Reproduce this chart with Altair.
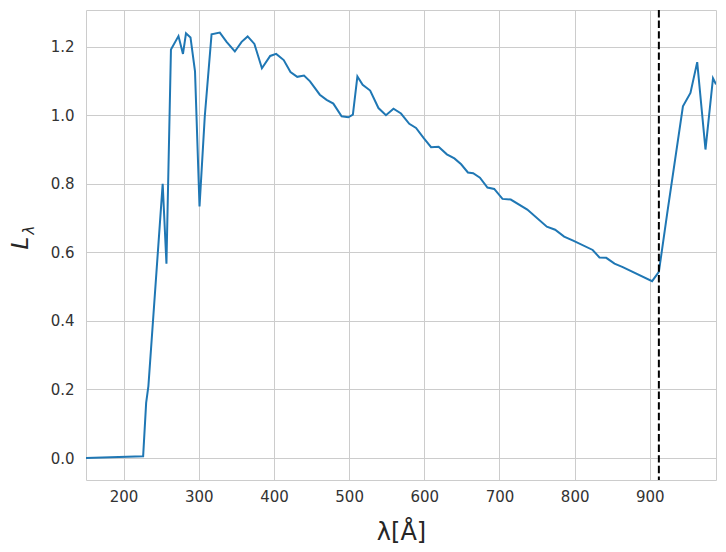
import altair as alt
import pandas as pd

wavelength = [150, 226, 230, 233, 252, 257, 263, 273, 279, 283, 289, 295, 301, 308, 317, 328, 337, 348,
              357, 365, 374, 384, 395, 403, 413, 422, 431, 440, 448, 461, 470, 479, 490, 499, 505, 511,
              518, 528, 539, 549, 559, 569, 580, 589, 599, 609, 619, 630, 640, 649, 658, 665, 674, 684,
              693, 704, 715, 737, 763, 774, 786, 798, 824, 833, 842, 853, 864, 903, 912, 923, 944, 954,
              963, 974, 984, 988]
luminosity = [0.0, 0.005, 0.161, 0.21, 0.80, 0.567, 1.192, 1.231, 1.179, 1.239, 1.227, 1.128, 0.734,
              0.997, 1.236, 1.241, 1.214, 1.186, 1.214, 1.23, 1.208, 1.137, 1.173, 1.179, 1.161, 1.126,
              1.112, 1.116, 1.099, 1.06, 1.045, 1.034, 0.997, 0.994, 1.002, 1.113, 1.089, 1.072, 1.021,
              1.0, 1.019, 1.005, 0.975, 0.963, 0.934, 0.907, 0.908, 0.886, 0.874, 0.857, 0.833, 0.831,
              0.818, 0.789, 0.785, 0.756, 0.754, 0.725, 0.675, 0.666, 0.646, 0.634, 0.607, 0.585, 0.584,
              0.567, 0.557, 0.516, 0.543, 0.712, 1.026, 1.065, 1.155, 0.90, 1.108, 1.09]
lyman_limit = [912]
x_ticks = [200, 300, 400, 500, 600, 700, 800, 900]
y_ticks = [0.0, 0.2, 0.4, 0.6, 0.8, 1.0, 1.2]

df = pd.DataFrame({"wl": wavelength, "L": luminosity})
df_rule = pd.DataFrame({"wl": lyman_limit})

FONT = "DejaVu Sans"

x_scale = alt.Scale(domain=[150, 988], nice=False, zero=False)
y_scale = alt.Scale(domain=[-0.064, 1.307], nice=False, zero=False)

line = alt.Chart(df).mark_line(color="#1f77b4", strokeWidth=2, clip=True).encode(
    x=alt.X("wl:Q", scale=x_scale,
            axis=alt.Axis(values=x_ticks, title="λ[Å]", titleFontSize=24, titleFont=FONT,
                          titleFontWeight="normal", titleColor="#262626", titlePadding=16,
                          labelFontSize=15, labelFont=FONT, labelColor="#333333",
                          labelPadding=9, ticks=False, domain=False, grid=True,
                          gridColor="#cccccc", gridWidth=1)),
    y=alt.Y("L:Q", scale=y_scale,
            axis=alt.Axis(values=y_ticks, format=".1f", title=None,
                          labelFontSize=15, labelFont=FONT, labelColor="#333333",
                          labelPadding=12, ticks=False, domain=False, grid=True,
                          gridColor="#cccccc", gridWidth=1)),
)

rule = alt.Chart(df_rule).mark_rule(color="black", strokeWidth=2, strokeDash=[7.4, 3.2]).encode(
    x=alt.X("wl:Q", scale=x_scale)
)

label_L = alt.Chart(pd.DataFrame({"t": ["L"]})).mark_text(
    font=FONT, fontSize=23, fontStyle="italic", angle=270, align="center", baseline="middle",
    color="#262626"
).encode(text="t:N", x=alt.value(-65), y=alt.value(233))

label_sub = alt.Chart(pd.DataFrame({"t": ["λ"]})).mark_text(
    font=FONT, fontSize=15, fontStyle="italic", angle=270, align="center", baseline="middle",
    color="#262626"
).encode(text="t:N", x=alt.value(-57), y=alt.value(220))

chart = alt.layer(line, rule, label_L, label_sub).properties(
    width=630, height=470,
    autosize=alt.AutoSizeParams(type="none"),
    padding={"left": 78, "top": 2, "right": 2, "bottom": 64},
    background="white",
).configure_view(stroke="#cccccc", strokeWidth=1)

chart.save("out.html", embed_options={"renderer": "svg", "actions": False})
